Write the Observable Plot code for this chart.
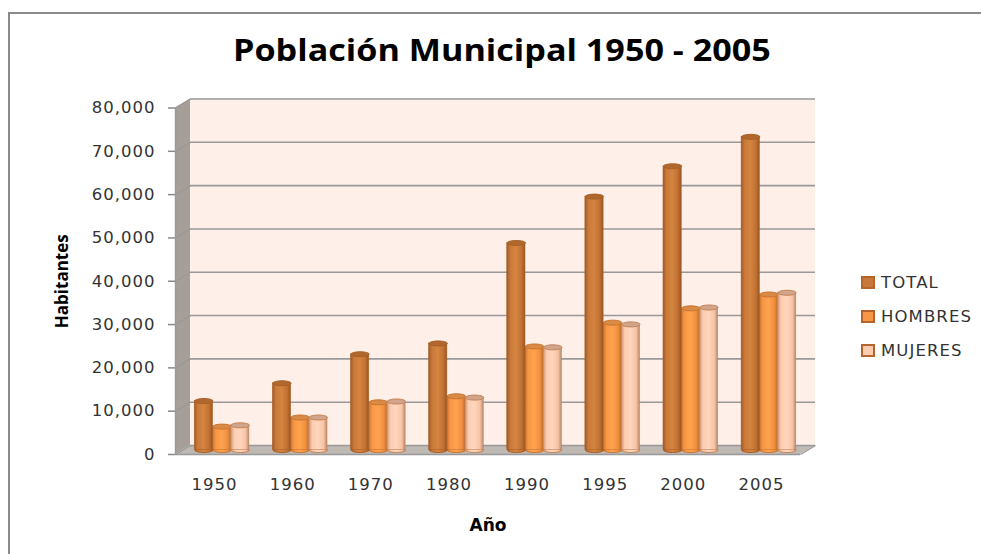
<!DOCTYPE html>
<html>
<head>
<meta charset="utf-8">
<script src="https://cdn.jsdelivr.net/npm/d3@7"></script>
<script src="https://cdn.jsdelivr.net/npm/@observablehq/plot@0.6"></script>
<style>
html,body{margin:0;padding:0;background:#fff;}
#page{position:relative;width:981px;height:554px;overflow:hidden;background:#fff;}
#frame{position:absolute;left:8px;top:12px;width:1000px;height:600px;border:2px solid #8a8a8a;box-sizing:border-box;}
#title{position:absolute;left:233px;top:28px;font:bold 31px "Open Sans",sans-serif;color:#000;white-space:nowrap;transform:scaleX(1.102);transform-origin:left center;}
#legend{position:absolute;left:861px;top:265px;font:16.5px "DejaVu Sans",sans-serif;letter-spacing:1.1px;color:#333;}
#legend div{display:flex;align-items:center;height:34px;}
#legend i{display:block;width:14px;height:13px;box-sizing:border-box;border:2px solid #b5652b;margin-right:6px;}
svg{position:absolute;left:0;top:0;}
svg [aria-label$="tick label"] text, svg [aria-label$="tick label"]{letter-spacing:1px;}
</style>
</head>
<body>
<div id="page">
<div id="frame"></div>
<div id="title">Población Municipal 1950 - 2005</div>
<div id="legend"></div>
<div id="chart"></div>
</div>
<script>
const years = ["1950","1960","1970","1980","1990","1995","2000","2005"];
const seriesNames = ["TOTAL","HOMBRES","MUJERES"];
const total   = [11300,15400,22100,24600,47800,58500,65500,72300];
const hombres = [5400,7500,11000,12400,23900,29400,32700,35900];
const mujeres = [5700,7500,11200,12100,23700,29000,32900,36300];
const yTicks = [0,10000,20000,30000,40000,50000,60000,70000,80000];

const swatch = ["#c8783a","#f79646","#fccbb0"];
const edge = ["#a95f26","#c9742f","#c58355"];
const cap = ["#b0682f","#d98a45","#d0a58c"];

const depthPxX = 15, depthPxY = 9, plotW = 625, plotH = 346.5, groups = 8, yMax = 80000;
const depthX = depthPxX / plotW * groups;
const depthY = depthPxY / plotH * yMax;
const barW = 18.2 / plotW * groups;

const rows = (vals, s) => vals.map((v, i) => ({
  year: years[i], value: v,
  x1: i + 0.5 + (s - 1.5) * barW,
  x2: i + 0.5 + (s - 0.5) * barW,
  xc: i + 0.5 + (s - 1) * barW
}));

const ellipse = (w, h) => ({draw(c) {
  const k = 0.5523, a = w / 2, b = h / 2;
  c.moveTo(-a, 0);
  c.bezierCurveTo(-a, -b * k, -a * k, -b, 0, -b);
  c.bezierCurveTo(a * k, -b, a, -b * k, a, 0);
  c.bezierCurveTo(a, b * k, a * k, b, 0, b);
  c.bezierCurveTo(-a * k, b, -a, b * k, -a, 0);
  c.closePath();
}});

const defs = () => {
  const ns = "http://www.w3.org/2000/svg";
  const d = document.createElementNS(ns, "defs");
  const stops = [
    ["#9c5a25","#c8783a","#d5853f","#c07033","#99551f"],
    ["#c8742e","#f79646","#ffa34f","#f0903f","#c06e2a"],
    ["#c69274","#fccbb0","#ffd6bd","#f7c3a5","#b98a6e"]
  ];
  stops.forEach((st, i) => {
    const g = document.createElementNS(ns, "linearGradient");
    g.setAttribute("id", "g" + i);
    [0, .18, .5, .82, 1].forEach((o, j) => {
      const s = document.createElementNS(ns, "stop");
      s.setAttribute("offset", o);
      s.setAttribute("stop-color", st[j]);
      g.appendChild(s);
    });
    d.appendChild(g);
  });
  return d;
};

const cylinder = (vals, s) => {
  const data = rows(vals, s);
  const off = {dx: depthPxX / 2, dy: -depthPxY / 2};
  return [
    Plot.dot(data, {x: "xc", y: () => 0, r: 5, symbol: ellipse(18.2, 5), fill: `url(#g${s})`, stroke: edge[s], strokeWidth: 1, ...off}),
    Plot.rectY(data, {x1: "x1", x2: "x2", y1: () => 0, y2: "value", fill: `url(#g${s})`, stroke: edge[s], strokeWidth: 0.6, ...off}),
    Plot.dot(data, {x: "xc", y: "value", r: 5, symbol: ellipse(18.2, 5), fill: cap[s], stroke: edge[s], strokeWidth: 1, ...off})
  ];
};

const chart = Plot.plot({
  width: 981, height: 554,
  marginLeft: 175, marginRight: 181, marginTop: 107.5, marginBottom: 100,
  style: {background: "transparent", overflow: "visible"},
  x: {type: "linear", domain: [0, groups], label: null},
  y: {domain: [0, yMax], label: null},
  marks: [
    defs,
    // back wall
    Plot.rect([0], {x1: () => 0, x2: () => groups, y1: () => 0, y2: () => yMax, fill: "#feefe8", dx: depthPxX, dy: -depthPxY}),
    // side wall
    Plot.areaY([0, depthX], {x: d => d, y1: d => d ? depthY : 0, y2: d => yMax + (d ? depthY : 0), fill: "#a69e98"}),
    // floor
    Plot.areaY([0, depthX, groups, groups + depthX], {
      x: d => d,
      y1: d => d === groups + depthX ? depthY : 0,
      y2: d => d === 0 ? 0 : depthY,
      fill: "#bfb9b4"
    }),
    // grid on the wall and its diagonal connectors
    Plot.ruleY(yTicks, {x1: () => 0, x2: () => groups, dx: depthPxX, dy: -depthPxY, stroke: "#999", strokeWidth: 1.6}),
    Plot.link(yTicks, {x1: () => 0, y1: d => d, x2: () => depthX, y2: d => d + depthY, stroke: "#999", strokeWidth: 1.4}),
    Plot.link([0], {x1: () => groups, y1: () => 0, x2: () => groups + depthX, y2: () => depthY, stroke: "#999", strokeWidth: 1.4}),
    Plot.ruleX([0], {y1: 0, y2: yMax, stroke: "#999", strokeWidth: 1.4}),
    Plot.ruleY([0], {x1: () => 0, x2: () => groups, stroke: "#999", strokeWidth: 1.6}),
    // axes
    Plot.axisY({
      ticks: yTicks, tickFormat: d3.format(","), tickSize: 7, tickPadding: 13, label: null,
      stroke: "#888", strokeWidth: 1.5, fill: "#333",
      fontSize: 16.5, fontFamily: "DejaVu Sans", fontVariant: "normal"
    }),
    Plot.axisX({
      ticks: years.map((_, i) => i + 0.5), tickFormat: d => years[d - 0.5], tickSize: 0, tickPadding: 24, label: null,
      fill: "#333", fontSize: 16.5, fontFamily: "DejaVu Sans", fontVariant: "normal"
    }),
    // cylinders
    ...cylinder(hombres, 1),
    ...cylinder(total, 0),
    ...cylinder(mujeres, 2),
    // axis titles
    Plot.text(["Habitantes"], {frameAnchor: "left", textAnchor: "middle", dx: -113, text: d => d, rotate: -90, fontWeight: "bold", fontSize: 17, fontFamily: "Open Sans", fill: "#000"}),
    Plot.text(["Año"], {x: () => groups / 2, frameAnchor: "bottom", dy: 76, text: d => d, fontWeight: "bold", fontSize: 17, fontFamily: "DejaVu Sans", fill: "#000"})
  ]
});
document.getElementById("chart").appendChild(chart);

const legend = document.getElementById("legend");
seriesNames.forEach((name, i) => {
  const row = document.createElement("div");
  const sw = document.createElement("i");
  sw.style.background = swatch[i];
  const t = document.createElement("span");
  t.textContent = name;
  row.append(sw, t);
  legend.appendChild(row);
});
</script>
</body>
</html>
